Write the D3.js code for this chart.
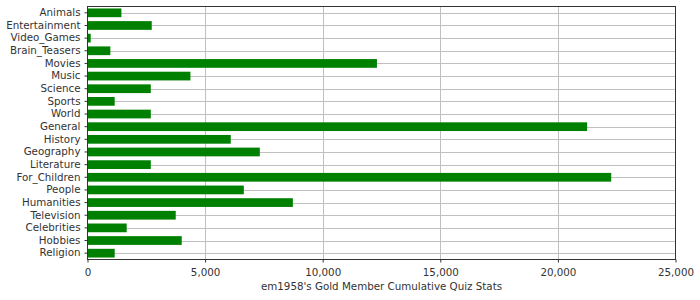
<!DOCTYPE html>
<html>
<head>
<meta charset="utf-8">
<script src="https://cdn.jsdelivr.net/npm/d3@7"></script>
<style>
  html, body { margin: 0; padding: 0; background: #ffffff; }
  svg { display: block; }
  text { font-family: "DejaVu Sans", sans-serif; fill: #333333; }
</style>
</head>
<body>
<svg id="chart" width="700" height="300"></svg>
<script>
// Quiz categories, top to bottom
const categories = [
  "Animals", "Entertainment", "Video_Games", "Brain_Teasers", "Movies",
  "Music", "Science", "Sports", "World", "General",
  "History", "Geography", "Literature", "For_Children", "People",
  "Humanities", "Television", "Celebrities", "Hobbies", "Religion"
];
// Cumulative quiz totals per category
const totals = [
  1420, 2710, 115, 950, 12285,
  4355, 2670, 1135, 2670, 21220,
  6070, 7305, 2670, 22245, 6625,
  8710, 3730, 1645, 3985, 1135
];
const xTicks = [0, 5000, 10000, 15000, 20000, 25000];
const xTitle = "em1958's Gold Member Cumulative Quiz Stats";

const plotLeft = 87.5, plotRight = 675.5, plotTop = 6.5, plotBottom = 259.5;

const svg = d3.select("#chart");

const x = d3.scaleLinear().domain([0, 25000]).range([plotLeft, plotRight]);
const y = d3.scaleBand().domain(categories).range([plotTop, plotBottom]).paddingInner(0.31).paddingOuter(0.155);

const grid = svg.append("g");
// horizontal gridlines through each category centre
grid.selectAll("line.h").data(categories).join("line")
  .attr("x1", plotLeft).attr("x2", plotRight)
  .attr("y1", d => Math.round(y(d) + y.bandwidth() / 2) + 0.5)
  .attr("y2", d => Math.round(y(d) + y.bandwidth() / 2) + 0.5)
  .attr("stroke", "#c0c0c0").attr("stroke-width", 1);
// vertical gridlines at the value ticks
grid.selectAll("line.v").data(xTicks.slice(1, -1)).join("line")
  .attr("x1", d => Math.round(x(d)) + 0.5).attr("x2", d => Math.round(x(d)) + 0.5)
  .attr("y1", plotTop).attr("y2", plotBottom)
  .attr("stroke", "#c0c0c0").attr("stroke-width", 1);

// bars
svg.append("g").selectAll("rect").data(categories).join("rect")
  .attr("x", x(0) + 0.5)
  .attr("y", d => y(d))
  .attr("width", (d, i) => x(totals[i]) - x(0))
  .attr("height", y.bandwidth())
  .attr("fill", "#008000");

// frame
svg.append("rect")
  .attr("x", plotLeft).attr("y", plotTop)
  .attr("width", plotRight - plotLeft).attr("height", plotBottom - plotTop)
  .attr("fill", "none").attr("stroke", "#333333").attr("stroke-width", 1);

// category axis
const yAxis = svg.append("g")
  .attr("transform", `translate(${plotLeft},0)`)
  .call(d3.axisLeft(y).tickSize(3).tickPadding(4));
yAxis.select(".domain").remove();
yAxis.selectAll(".tick line").attr("stroke", "#333333");
yAxis.selectAll(".tick text")
  .attr("font-family", "DejaVu Sans").attr("font-size", "10.3px").attr("fill", "#333333");

// value axis
const xAxis = svg.append("g")
  .attr("transform", `translate(0,${plotBottom})`)
  .call(d3.axisBottom(x).tickValues(xTicks).tickSize(3).tickPadding(6).tickFormat(d3.format(",")));
xAxis.select(".domain").remove();
xAxis.selectAll(".tick line").attr("stroke", "#333333");
xAxis.selectAll(".tick text")
  .attr("font-family", "DejaVu Sans").attr("font-size", "10.3px").attr("fill", "#333333");

svg.append("text")
  .attr("x", (plotLeft + plotRight) / 2).attr("y", 290)
  .attr("text-anchor", "middle")
  .attr("font-size", "10.3px")
  .text(xTitle);
</script>
</body>
</html>
